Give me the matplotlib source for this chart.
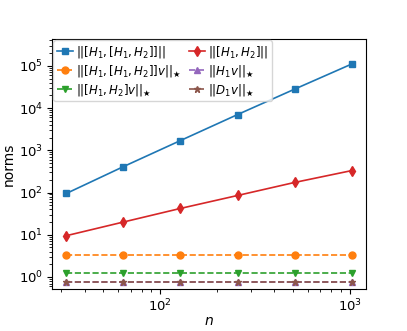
import numpy as np
import matplotlib
matplotlib.use("Agg")
import matplotlib.pyplot as plt

n = [32, 64, 128, 256, 512, 1024]
comm2 = [95, 410, 1700, 7000, 28000, 110000]
comm1 = [9.5, 20, 42, 85, 173, 330]
comm2_v = [3.3, 3.3, 3.3, 3.3, 3.3, 3.3]
comm1_v = [1.22, 1.22, 1.22, 1.22, 1.22, 1.22]
h1_v = [0.74, 0.74, 0.74, 0.74, 0.74, 0.74]
d1_v = [0.74, 0.74, 0.74, 0.74, 0.74, 0.74]

plt.rcParams['font.size'] = 9.5
fig, ax = plt.subplots(figsize=(4.07, 3.31), dpi=100)
ax.plot(n, comm2, 's-', color='C0', ms=5, lw=1.2, label=r'$||[H_1,[H_1,H_2]]||$')
ax.plot(n, comm2_v, 'o--', color='C1', ms=5, lw=1.2, label=r'$||[H_1,[H_1,H_2]]v||_\bigstar$')
ax.plot(n, comm1_v, 'v--', color='C2', ms=5, lw=1.2, label=r'$||[H_1,H_2]v||_\bigstar$')
ax.plot(n, comm1, 'd-', color='C3', ms=5, lw=1.2, label=r'$||[H_1,H_2]||$')
ax.plot(n, h1_v, '^--', color='C4', ms=5, lw=1.2, label=r'$||H_1v||_\bigstar$')
ax.plot(n, d1_v, '*--', color='C5', ms=5, lw=1.2, label=r'$||D_1v||_\bigstar$')
ax.set_xscale('log')
ax.set_yscale('log')
ax.set_ylim(0.52, 4.3e5)
ax.tick_params(axis='x', pad=2.5)
ax.tick_params(axis='y', pad=3)
ax.set_xlabel('$n$', fontsize=10, labelpad=0)
ax.set_ylabel('norms', fontsize=10, labelpad=2.5)
ax.legend(ncol=2, loc='upper left', fontsize=8.5, handlelength=1.4,
          handletextpad=0.25, columnspacing=0.6, labelspacing=0.25,
          borderpad=0.3, borderaxespad=0.1)
fig.subplots_adjust(left=0.128, right=0.899, bottom=0.127, top=0.882)
fig.savefig('out.png')
